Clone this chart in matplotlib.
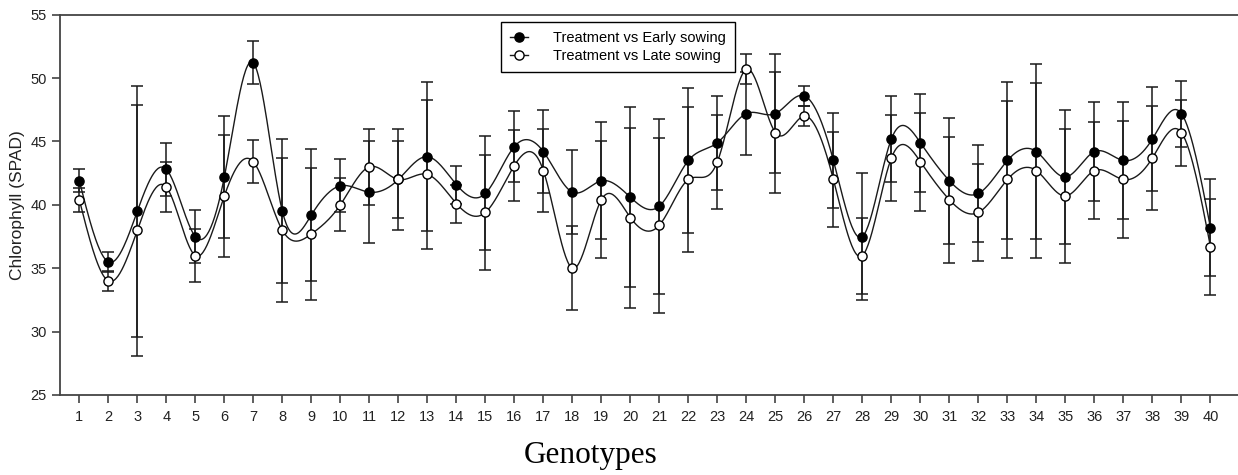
import numpy as np
import matplotlib
matplotlib.use("Agg")
import matplotlib.pyplot as plt

# genotype numbers and chlorophyll means / errors
genotypes = list(range(1, 41))
early = [41.9, 35.5, 39.5, 42.8, 37.5, 42.2, 51.2, 39.5, 39.2, 41.5,
         41.0, 42.0, 43.8, 41.6, 40.9, 44.6, 44.2, 41.0, 41.9, 40.6,
         39.9, 43.5, 44.9, 47.2, 47.2, 48.6, 43.5, 37.5, 45.2, 44.9,
         41.9, 40.9, 43.5, 44.2, 42.2, 44.2, 43.5, 45.2, 47.2, 38.2]
early_err = [0.9, 0.8, 9.9, 2.1, 2.1, 4.8, 1.7, 5.7, 5.2, 2.1,
             4.0, 4.0, 5.9, 1.5, 4.5, 2.8, 3.3, 3.3, 4.6, 7.1,
             6.9, 5.7, 3.7, 3.3, 4.7, 0.8, 3.75, 5.0, 3.4, 3.85,
             4.95, 3.8, 6.2, 6.9, 5.3, 3.9, 4.6, 4.1, 2.6, 3.8]
late = [40.4, 34.0, 38.0, 41.4, 36.0, 40.7, 43.4, 38.0, 37.7, 40.0,
        43.0, 42.0, 42.4, 40.1, 39.4, 43.1, 42.7, 35.0, 40.4, 39.0,
        38.4, 42.0, 43.4, 50.7, 45.7, 47.0, 42.0, 36.0, 43.7, 43.4,
        40.4, 39.4, 42.0, 42.7, 40.7, 42.7, 42.0, 43.7, 45.7, 36.7]
late_err = [0.95, 0.8, 9.9, 2.0, 2.1, 4.8, 1.7, 5.7, 5.2, 2.1,
            3.0, 3.0, 5.9, 1.5, 4.5, 2.8, 3.3, 3.3, 4.6, 7.1,
            6.9, 5.7, 3.7, 1.2, 4.75, 0.78, 3.75, 3.0, 3.4, 3.85,
            4.95, 3.8, 6.2, 6.9, 5.3, 3.85, 4.6, 4.1, 2.6, 3.8]
y_ticks = [25, 30, 35, 40, 45, 50, 55]


def natural_spline(x, y, n=30):
    # natural cubic spline through the points (no scipy here)
    x = np.asarray(x, float)
    y = np.asarray(y, float)
    m = len(x)
    h = np.diff(x)
    A = np.zeros((m, m))
    b = np.zeros(m)
    A[0, 0] = 1
    A[-1, -1] = 1
    for i in range(1, m - 1):
        A[i, i - 1] = h[i - 1]
        A[i, i] = 2 * (h[i - 1] + h[i])
        A[i, i + 1] = h[i]
        b[i] = 3 * ((y[i + 1] - y[i]) / h[i] - (y[i] - y[i - 1]) / h[i - 1])
    c = np.linalg.solve(A, b)
    xs, ys = [], []
    for i in range(m - 1):
        bi = (y[i + 1] - y[i]) / h[i] - h[i] * (2 * c[i] + c[i + 1]) / 3
        di = (c[i + 1] - c[i]) / (3 * h[i])
        t = np.linspace(0, h[i], n, endpoint=False)
        xs.append(x[i] + t)
        ys.append(y[i] + bi * t + c[i] * t ** 2 + di * t ** 3)
    xs.append([x[-1]])
    ys.append([y[-1]])
    return np.concatenate(xs), np.concatenate(ys)


plt.rcParams["font.family"] = ["Liberation Sans", "DejaVu Sans"]

fig = plt.figure(figsize=(12.38, 4.75), dpi=100)
ax = fig.add_axes([60 / 1238, 80 / 475, 1178 / 1238, 380.3 / 475])

for vals, errs, face, lab in [(early, early_err, "black", "Treatment vs Early sowing"),
                              (late, late_err, "white", "Treatment vs Late sowing")]:
    sx, sy = natural_spline(genotypes, vals)
    ax.plot(sx, sy, color="#1a1a1a", lw=1.0, zorder=2)
    ax.errorbar(genotypes, vals, yerr=errs, fmt="none", ecolor="#1a1a1a",
                elinewidth=1.1, capsize=4.5, capthick=1.1, zorder=3)
    ax.plot(genotypes, vals, "o", ms=6.6, mfc=face, mec="black", mew=1.0, zorder=4)
    ax.plot([], [], "-o", color="#1a1a1a", lw=1.0, ms=6.6, mfc=face, mec="black",
            label=lab)

ax.set_xlim(0.334, 40.95)
ax.set_ylim(25, 55)
ax.set_xticks(genotypes)
ax.set_yticks(y_ticks)
ax.tick_params(axis="both", direction="out", length=6, width=1.1,
               color="#333333", labelsize=10.5, labelcolor="#222222")
ax.tick_params(axis="x", pad=5)
ax.spines["right"].set_visible(False)
for s in ["left", "bottom", "top"]:
    ax.spines[s].set_color("#444444")
    ax.spines[s].set_linewidth(1.3)

ax.set_ylabel("Chlorophyll (SPAD)", fontsize=12.5, color="#222222", labelpad=4)
fig.text(591 / 1238, 1 - 455 / 475, "Genotypes", ha="center", va="center",
         fontsize=22.5, family=["Liberation Serif", "DejaVu Serif"])

leg = ax.legend(loc="upper left", bbox_to_anchor=(0.374, 0.982), fontsize=10.5,
                handlelength=1.25, handletextpad=1.7, borderaxespad=0,
                fancybox=False, framealpha=1, edgecolor="black",
                labelspacing=0.25, borderpad=0.65)
leg.get_frame().set_linewidth(1.0)

fig.savefig("out.png", dpi=100)
